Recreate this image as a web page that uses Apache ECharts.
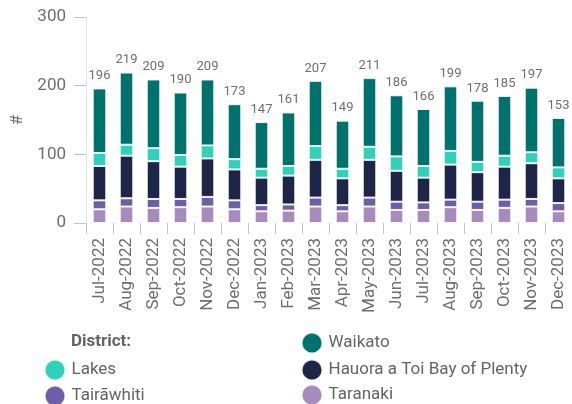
<!DOCTYPE html>
<html>
<head>
<meta charset="utf-8">
<script src="https://cdn.jsdelivr.net/npm/echarts@6/dist/echarts.min.js"></script>
<style>
  html, body { margin: 0; padding: 0; background: #fff; }
  #chartDistrict { width: 572px; height: 404px; }
</style>
</head>
<body>
<div id="chartDistrict"></div>
<script>
/* ============================================================
   Monthly counts by district — stacked bars + total labels
   ============================================================ */

// ---- data ----
var months = ["Jul-2022", "Aug-2022", "Sep-2022", "Oct-2022", "Nov-2022", "Dec-2022",
              "Jan-2023", "Feb-2023", "Mar-2023", "Apr-2023", "May-2023", "Jun-2023",
              "Jul-2023", "Aug-2023", "Sep-2023", "Oct-2023", "Nov-2023", "Dec-2023"];
var taranaki   = [20, 24, 22, 23, 24, 20, 17, 18, 24, 17, 24, 19, 19, 23, 19, 22, 24, 17];
var tairawhiti = [13, 12, 13, 12, 14, 13,  9,  9, 13,  9, 13, 12, 11, 11, 12, 12, 11, 12];
var bayOfPlenty = [50, 62, 55, 47, 56, 45, 40, 42, 55, 39, 55, 45, 36, 51, 43, 48, 52, 36];
var lakes      = [19, 16, 19, 17, 19, 15, 13, 14, 20, 14, 19, 21, 17, 20, 15, 16, 16, 16];
var waikato    = [94, 105, 100, 91, 96, 80, 68, 78, 95, 70, 100, 89, 83, 94, 89, 87, 94, 72];
var totals     = [196, 219, 209, 190, 209, 173, 147, 161, 207, 149, 211, 186, 166, 199, 178, 185, 197, 153];
var yTicks     = [0, 100, 200, 300];

// ---- colours ----
var C = {
  waikato: "#00726e",
  lakes: "#2fd2b8",
  bop: "#1d2549",
  tair: "#6d5fa7",
  taranaki: "#a78bbc",
  text: "#6e6e6e",
  legend: "#646464"
};

var FONT = "Roboto, 'Noto Sans', sans-serif";

function barSeries(name, data, color) {
  return {
    name: name,
    type: "bar",
    stack: "total",
    barWidth: "50%",
    data: data,
    itemStyle: { color: color, borderColor: "rgba(255,255,255,0.85)", borderWidth: 1 },
    emphasis: { disabled: true }
  };
}

// one legend per entry so the two-column layout stays put
function legendItem(name, centerX, centerY) {
  return {
    data: [name],
    left: centerX - 11.5,
    top: centerY - 10.5,
    padding: 0,
    icon: "circle",
    itemWidth: 23,
    itemHeight: 21,
    textStyle: { fontFamily: FONT, fontSize: 17, color: C.legend }
  };
}

var chart = echarts.init(document.getElementById("chartDistrict"), null, { renderer: "canvas" });

var series = [
  barSeries("Taranaki", taranaki, C.taranaki),
  barSeries("Tairāwhiti", tairawhiti, C.tair),
  barSeries("Hauora a Toi Bay of Plenty", bayOfPlenty, C.bop),
  barSeries("Lakes", lakes, C.lakes),
  barSeries("Waikato", waikato, C.waikato)
];
// total on top of the stack
series[4].label = {
  show: true,
  position: "top",
  distance: 6,
  fontFamily: FONT,
  fontSize: 13,
  color: C.text,
  formatter: function(p) { return totals[p.dataIndex]; }
};

chart.setOption({
  animation: false,
  textStyle: { fontFamily: FONT },
  title: {
    text: "District:",
    left: 71,
    top: 333,
    padding: 0,
    textStyle: { fontFamily: FONT, fontSize: 17, fontWeight: "bold", color: C.legend }
  },
  legend: [
    legendItem("Lakes", 55, 369),
    legendItem("Tairāwhiti", 55, 395),
    legendItem("Waikato", 312, 342),
    legendItem("Hauora a Toi Bay of Plenty", 312, 369),
    legendItem("Taranaki", 312, 394)
  ],
  grid: { left: 86, right: 0, top: 17, bottom: 181 },
  xAxis: {
    type: "category",
    data: months,
    axisLine: { show: false },
    axisTick: { show: true, length: 11, lineStyle: { color: "#c4c4c4" } },
    axisLabel: { rotate: 90, margin: 15, fontFamily: FONT, fontSize: 17, color: C.text, interval: 0 }
  },
  yAxis: {
    type: "value",
    min: yTicks[0],
    max: yTicks[yTicks.length - 1],
    interval: yTicks[1] - yTicks[0],
    name: "#",
    nameLocation: "middle",
    nameGap: 58,
    nameRotate: 90,
    nameTextStyle: { fontFamily: FONT, fontSize: 17, color: C.text },
    axisLine: { show: true, lineStyle: { color: "#e6e6e6" } },
    axisTick: { show: true, length: 12, lineStyle: { color: "#c4c4c4" } },
    axisLabel: { margin: 20, fontFamily: FONT, fontSize: 17, color: C.text },
    splitLine: { show: false }
  },
  series: series
});
</script>
</body>
</html>
